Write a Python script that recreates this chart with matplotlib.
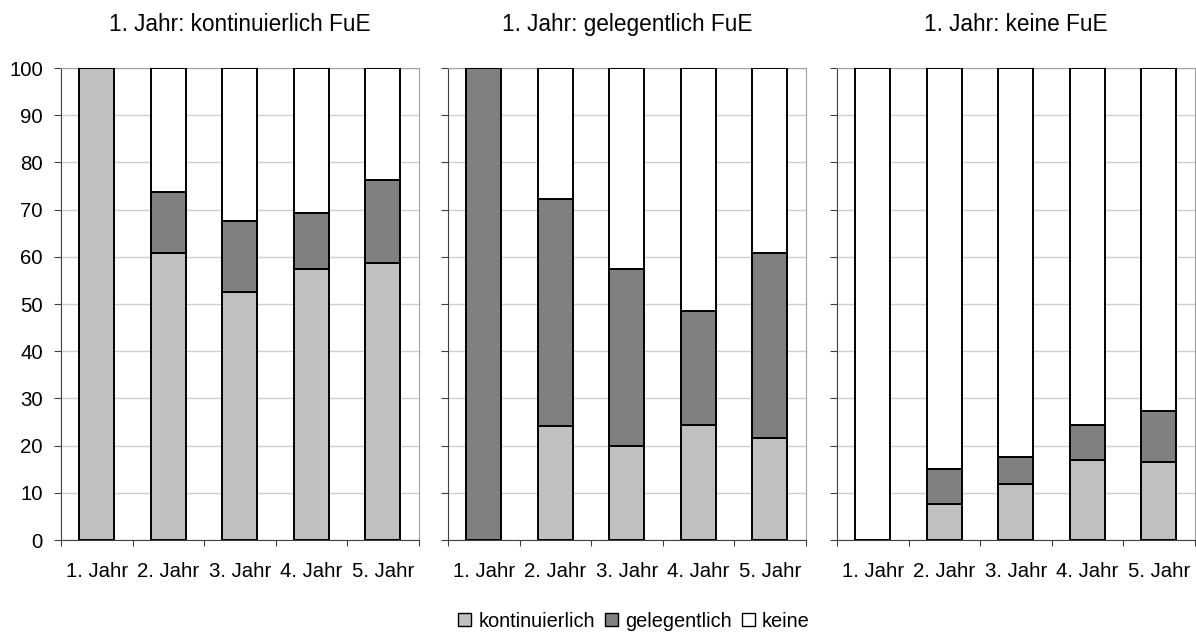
import numpy as np
import matplotlib
matplotlib.use('Agg')
import matplotlib.pyplot as plt
from matplotlib.patches import Patch

plt.rcParams['font.family'] = ['Liberation Sans', 'DejaVu Sans']
plt.rcParams['font.size'] = 14.7

# daten
jahre = ['1. Jahr', '2. Jahr', '3. Jahr', '4. Jahr', '5. Jahr']
titel = ['1. Jahr: kontinuierlich FuE', '1. Jahr: gelegentlich FuE', '1. Jahr: keine FuE']
serien = ['kontinuierlich', 'gelegentlich', 'keine']

kont_1 = [100, 60.7, 52.6, 57.5, 58.7]
gel_1 = [0, 13.1, 15.0, 11.8, 17.5]
kont_2 = [0, 24.1, 20.0, 24.4, 21.6]
gel_2 = [100, 48.1, 37.5, 24.1, 39.1]
kont_3 = [0, 7.7, 11.9, 17.0, 16.6]
gel_3 = [0, 7.4, 5.6, 7.4, 10.7]

farben = ['#c0c0c0', '#808080', '#ffffff']

fig = plt.figure(figsize=(11.96, 6.32), dpi=100)
lefts = [61 / 1196, 448 / 1196, 837 / 1196]
breite = 357.5 / 1196
unten = (632 - 540) / 632
hoehe = 472 / 632

daten = [(kont_1, gel_1), (kont_2, gel_2), (kont_3, gel_3)]
x = np.arange(len(jahre))

for i in range(3):
    ax = fig.add_axes([lefts[i], unten, breite, hoehe])
    k = np.array(daten[i][0])
    g = np.array(daten[i][1])
    rest = 100 - k - g
    ax.bar(x, k, 0.49, color=farben[0], edgecolor='black', linewidth=1.4, zorder=3)
    ax.bar(x, g, 0.49, bottom=k, color=farben[1], edgecolor='black', linewidth=1.4, zorder=3)
    ax.bar(x, rest, 0.49, bottom=k + g, color=farben[2], edgecolor='black', linewidth=1.4, zorder=3)
    ax.set_xlim(-0.5, 4.5)
    ax.set_ylim(0, 100)
    ax.set_yticks(np.arange(0, 101, 10))
    ax.yaxis.grid(True, color='#d0d0d0', linewidth=1, zorder=0)
    ax.set_xticks(np.arange(-0.5, 5, 1))
    ax.set_xticklabels([])
    ax.set_xticks(x, minor=True)
    ax.set_xticklabels(jahre, minor=True)
    ax.tick_params(axis='x', which='minor', length=0, pad=16)
    ax.tick_params(axis='x', which='major', length=4.5, color='#404040')
    ax.tick_params(axis='y', length=5, color='#404040', pad=8)
    if i > 0:
        ax.set_yticklabels([])
    for s in ['top', 'right']:
        ax.spines[s].set_color('#a0a0a0')
    for s in ['left', 'bottom']:
        ax.spines[s].set_color('#404040')
    ax.set_title(titel[i], pad=26.5, fontsize=16.3)

handles = [Patch(facecolor=farben[j], edgecolor='black', linewidth=1) for j in range(3)]
fig.legend(handles, serien, loc='center', bbox_to_anchor=(0.530, 0.0174), ncol=3,
           frameon=False, handlelength=0.65, handleheight=0.65, handletextpad=0.35,
           columnspacing=0.5, fontsize=14.4, borderaxespad=0, borderpad=0)

fig.savefig('out.png', dpi=100)
